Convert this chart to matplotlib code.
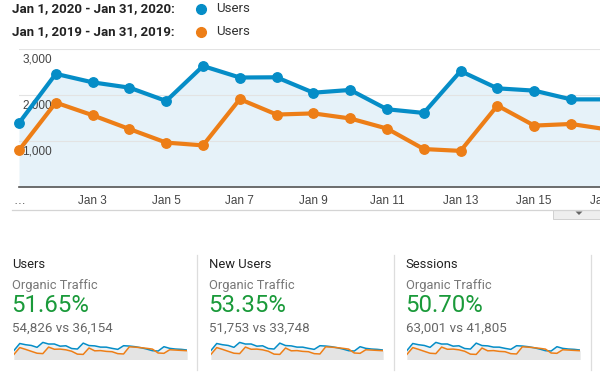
import matplotlib
matplotlib.use("Agg")
import matplotlib.pyplot as plt
from matplotlib.lines import Line2D
from matplotlib.patches import Rectangle, Polygon

W, H = 600, 382

# ---------------- data ----------------
days = list(range(1, 18))  # Jan 1 .. Jan 17 (Jan 17 partly off-screen)
users_2020 = [1390, 2460, 2275, 2160, 1870, 2630, 2380, 2385, 2050, 2110,
              1690, 1610, 2520, 2145, 2095, 1905, 1905]
users_2019 = [800, 1835, 1560, 1260, 965, 905, 1910, 1575, 1600, 1490,
              1270, 825, 785, 1770, 1335, 1370, 1250]
tick_days = [1, 3, 5, 7, 9, 11, 13, 15, 17]
tick_labels = ["…", "Jan 3", "Jan 5", "Jan 7", "Jan 9", "Jan 11", "Jan 13", "Jan 15", "Jan 17"]
y_ticks = [1000, 2000, 3000]
y_tick_labels = ["1,000", "2,000", "3,000"]

legend_ranges = ["Jan 1, 2020 - Jan 31, 2020:", "Jan 1, 2019 - Jan 31, 2019:"]
legend_metric = ["Users", "Users"]

# sparkline (whole month) values
spark_days = list(range(1, 32))
spark_2020 = [1390, 2460, 2275, 2160, 1870, 2630, 2380, 2385, 2050, 2110,
              1690, 1610, 2520, 2145, 2095, 1905, 1900, 1714, 1560, 2120,
              2070, 1970, 1815, 1610, 1357, 1305, 1970, 1714, 1610, 1560, 1460]
spark_2019 = [800, 1835, 1560, 1260, 965, 905, 1910, 1575, 1600, 1490,
              1270, 825, 785, 1770, 1335, 1370, 1250, 1200, 900, 850,
              1950, 1900, 1820, 1720, 1600, 1000, 950, 1500, 1450, 1400, 1350]

card_titles = ["Users", "New Users", "Sessions"]
card_subtitles = ["Organic Traffic", "Organic Traffic", "Organic Traffic"]
card_pcts = ["51.65%", "53.35%", "50.70%"]
card_compare = ["54,826 vs 36,154", "51,753 vs 33,748", "63,001 vs 41,805"]

BLUE = "#058dc7"
ORANGE = "#ed7e17"
FILL = "#e6f2f9"

fig = plt.figure(figsize=(W / 100, H / 100), dpi=100)
fig.patch.set_facecolor("white")


def fx(x):
    return x / W


def fy(y):
    return 1 - y / H


# ---------------- legend ----------------
for i, (rng, met) in enumerate(zip(legend_ranges, legend_metric)):
    yc = 8.5 + i * 23
    fig.text(fx(12), fy(yc), rng, fontsize=9.5, fontweight="bold", color="#222222",
             family=["Roboto", "DejaVu Sans"], va="center", ha="left")
    fig.add_artist(Line2D([fx(201)], [fy(yc)], marker="o", markersize=7,
                          color=[BLUE, ORANGE][i], linestyle="none"))
    fig.text(fx(216), fy(yc), met, fontsize=9.5, color="#333333",
             family=["Roboto", "DejaVu Sans"], va="center", ha="left")

# ---------------- main chart ----------------
x0_px, x1_px = 19.0, 607.8
y_top_px, y_bot_px = 49.0, 187.0
ax = fig.add_axes([fx(x0_px), fy(y_bot_px), (x1_px - x0_px) / W, (y_bot_px - y_top_px) / H])
ax.set_xlim(1, 17)
ax.set_ylim(0, 3000)
ax.set_facecolor("none")
for s in ["top", "left", "right"]:
    ax.spines[s].set_visible(False)
ax.spines["bottom"].set_color("#555555")
ax.spines["bottom"].set_linewidth(1.2)
ax.spines["bottom"].set_zorder(6)

for v in y_ticks:
    ax.axhline(v, color="#e3e3e3", lw=0.8, zorder=1)
ax.set_yticks([])

ax.fill_between(days, users_2020, 0, color=FILL, zorder=0, lw=0)

for v, lab in zip(y_ticks, y_tick_labels):
    ax.annotate(lab, xy=(0, v), xycoords=("axes fraction", "data"),
                xytext=(2.2, -7.3), textcoords="offset points",
                fontsize=8.5, color="#444444", va="center", ha="left",
                family=["Liberation Sans", "DejaVu Sans"], zorder=2)

ax.plot(days, users_2020, color=BLUE, lw=3.0, marker="o", markersize=6.8,
        clip_on=False, zorder=5, solid_joinstyle="round")
ax.plot(days, users_2019, color=ORANGE, lw=3.0, marker="o", markersize=6.8,
        clip_on=False, zorder=4, solid_joinstyle="round")

ax.set_xticks(tick_days)
ax.set_xticklabels(tick_labels, fontsize=8.5, color="#444444",
                   family=["Liberation Sans", "DejaVu Sans"])
ax.tick_params(axis="x", length=0, pad=5.5)

# separator under the chart & dropdown handle
fig.add_artist(Line2D([fx(12), fx(600)], [fy(209.5), fy(209.5)], color="#d4d4d4", lw=0.9))
fig.add_artist(Rectangle((fx(553), fy(218.5)), fx(50), 9.0 / H, transform=fig.transFigure,
                         facecolor="#eeeeee", edgecolor="#d0d0d0", lw=0.7))
fig.add_artist(Polygon([[fx(575.5), fy(211.5)], [fx(582.5), fy(211.5)], [fx(579), fy(215)]],
                       closed=True, transform=fig.transFigure, facecolor="#666666",
                       edgecolor="none"))

# ---------------- cards ----------------
card_x = [12, 209, 405.5]
spark_x = [(14, 187), (211, 383), (407, 580)]
sep_x = [197, 394, 591]
for i in range(3):
    x = card_x[i]
    fig.text(fx(x), fy(264.5), card_titles[i], fontsize=9.4, color="#222222",
             family=["Roboto", "DejaVu Sans"], va="center", ha="left")
    fig.text(fx(x), fy(285), card_subtitles[i], fontsize=9.3, color="#777777",
             family=["Roboto", "DejaVu Sans"], va="center", ha="left")
    fig.text(fx(x - 0.5), fy(306), card_pcts[i], fontsize=17.3, color="#1a9a3a",
             family=["Roboto", "DejaVu Sans"], va="center", ha="left")
    fig.text(fx(x), fy(328), card_compare[i], fontsize=9.6, color="#666666",
             family=["Roboto", "DejaVu Sans"], va="center", ha="left")

    sx0, sx1 = spark_x[i]
    sax = fig.add_axes([fx(sx0), fy(359.5), (sx1 - sx0) / W, 19.5 / H])
    sax.set_xlim(1, 31)
    sax.set_ylim(0, 3000)
    sax.axis("off")
    sax.fill_between(spark_days, spark_2020, 0, color="#eef1f3", lw=0)
    sax.fill_between(spark_days, spark_2019, 0, color="#e4e4e4", lw=0)
    sax.plot(spark_days, spark_2020, color=BLUE, lw=1.1)
    sax.plot(spark_days, spark_2019, color=ORANGE, lw=1.1)

    fig.add_artist(Line2D([fx(sep_x[i]), fx(sep_x[i])], [fy(255), fy(370)],
                          color="#dddddd", lw=0.9))

fig.savefig("out.png", dpi=100, facecolor="white")
